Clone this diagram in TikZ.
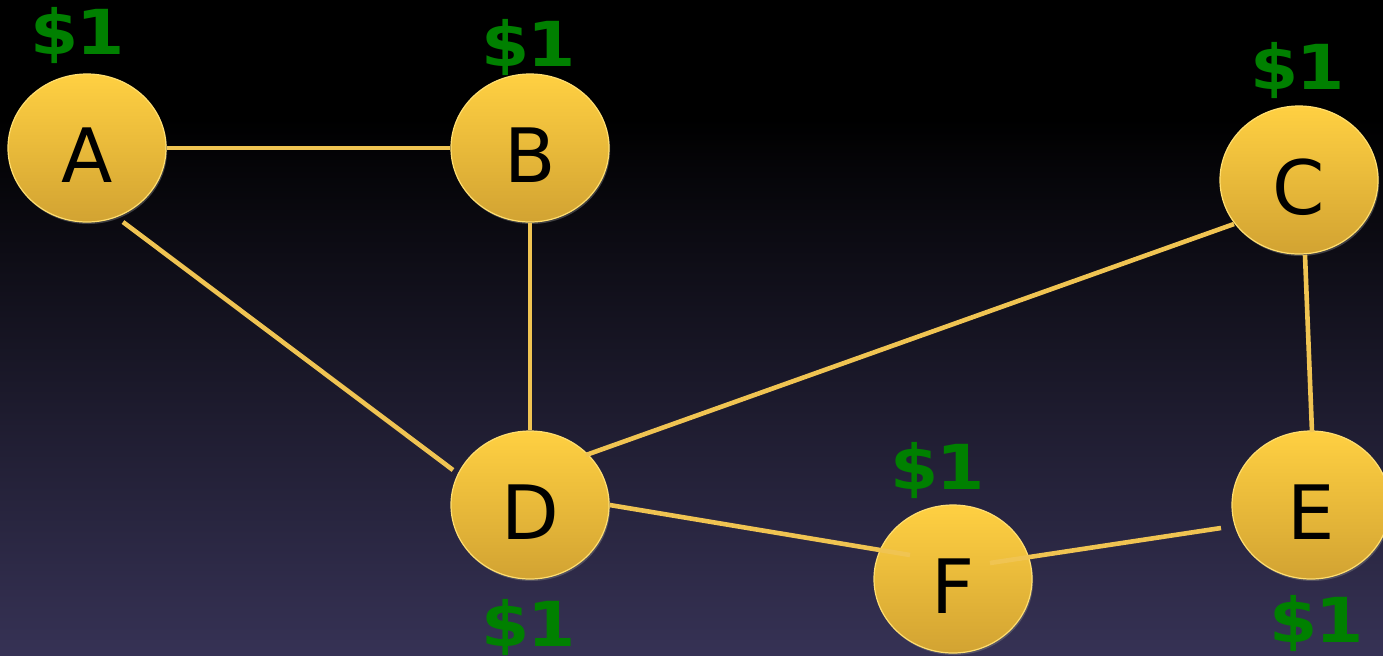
\documentclass[tikz,border=0pt]{standalone}
\usepackage{fontspec}
\setmainfont{DejaVu Sans}
\usetikzlibrary{positioning,calc,shapes.geometric,shadows}
\definecolor{nodetop}{RGB}{255,208,66}
\definecolor{nodebottom}{RGB}{210,163,50}
\definecolor{noderim}{RGB}{255,222,112}
\definecolor{edgecolor}{RGB}{240,196,82}
\definecolor{pricecolor}{RGB}{0,128,0}
\pgfdeclareverticalshading{nightsky}{100bp}{rgb(0bp)=(0.212,0.196,0.333); rgb(25bp)=(0.212,0.196,0.333); rgb(66bp)=(0,0,0); rgb(100bp)=(0,0,0)}

\begin{document}
\begin{tikzpicture}[x=0.5pt,y=-0.5pt,
vertex/.style={
  ellipse,
  minimum width=79pt,
  minimum height=74pt,
  inner sep=0pt,
  draw=noderim,
  line width=0.6pt,
  top color=nodetop,
  bottom color=nodebottom,
  drop shadow={shadow xshift=0.6pt,shadow yshift=-1pt,opacity=0.45},
  font={\fontsize{37.5}{40}\selectfont\color{black}},
  text height=34.5pt,
  text depth=0pt},
price/.style={
  inner sep=0pt,
  xscale=1.12,
  font={\fontsize{31}{34}\selectfont\bfseries\color{pricecolor}},
  text height=22.5pt,
  text depth=0pt},
link/.style={draw=edgecolor,line width=2.3pt},
]
\useasboundingbox (0,0) rectangle (1383,655);
\shade[shading=nightsky] (0,0) rectangle (1383,655);

\node[vertex] (A) at (87,148) {A};
\node[vertex] (B) at (530,148) {B};
\node[vertex] (C) at (1299,180) {C};
\node[vertex] (D) at (530,505) {D};
\node[vertex] (E) at (1311,505) {E};
\node[vertex] (F) at (953,579) {F};

\node[price,above=9.5pt of A,xshift=-4pt] (pA) {\$\kern-1pt 1};
\node[price,above=3.5pt of B,xshift=-0.6pt] (pB) {\$\kern-1pt 1};
\node[price,above=8pt of C,xshift=-0.6pt] (pC) {\$\kern-1pt 1};
\node[price,below=10.75pt of D,xshift=-0.8pt] (pD) {\$\kern-1pt 1};
\node[price,below=8.75pt of E,xshift=2.7pt] (pE) {\$\kern-1pt 1};
\node[price,above=7.25pt of F,xshift=-6.7pt] (pF) {\$\kern-1pt 1};

\draw[link] (A.east) -- (B.west);
\draw[link] ($(A)+(36,74)$) -- ($(D)+(-77,-35)$);
\draw[link] (B.south) -- (D.north);
\draw[link] ($(C)+(-65,44)$) -- ($(D)+(56,-50)$);
\draw[link] ($(C)+(6,75)$) -- ($(E)+(1,-73)$);
\draw[link] (D.east) -- ($(F)+(-43,-24)$);
\draw[link] ($(F)+(37,-16)$) -- ($(E)+(-90,23)$);
\end{tikzpicture}
\end{document}
